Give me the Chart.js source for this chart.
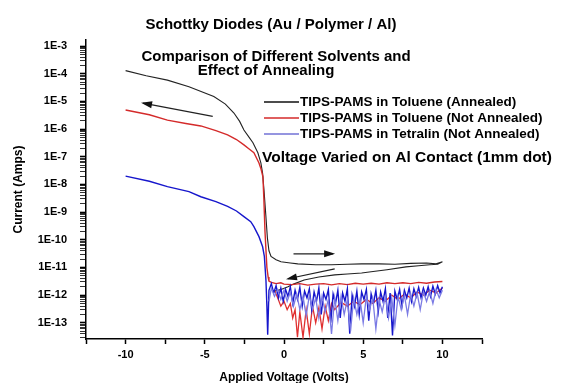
<!DOCTYPE html>
<html>
<head>
<meta charset="utf-8">
<script src="https://cdn.jsdelivr.net/npm/chart.js@4.4.1/dist/chart.umd.min.js"></script>
<style>
  html, body { margin: 0; padding: 0; background: #fff; }
</style>
</head>
<body>
<canvas id="Schottky" width="561" height="383"></canvas>
<script>
// Sweeps: [voltage (V), current (A)]
// Annealed in toluene: reverse branch, forward sweep (upper) and return sweep (lower)
const BLACK_SWEEP = [
  [-10, 1.3e-4], [-8.7, 8.5e-5], [-7.36, 5.9e-5], [-6, 3.4e-5], [-4.43, 1.5e-5],
  [-3.7, 8e-6], [-3.16, 3.8e-6], [-2.8, 1.9e-6], [-2.53, 9.3e-7], [-2.2, 5e-7],
  [-1.96, 3.2e-7], [-1.65, 1.4e-7], [-1.46, 6e-8], [-1.35, 2.5e-8], [-1.25, 5e-9],
  [-1.15, 8e-10], [-1.05, 1.2e-10], [-0.95, 4e-11], [-0.82, 2.5e-11], [-0.5, 1.9e-11],
  [-0.19, 1.6e-11], [0.4, 1.45e-11], [0.87, 1.35e-11], [2, 1.25e-11], [3, 1.25e-11],
  [4, 1.3e-11], [4.9, 1.35e-11], [6, 1.35e-11], [7, 1.3e-11], [8, 1.4e-11],
  [9, 1.45e-11], [9.6, 1.35e-11], [10, 1.6e-11],
  [9.7, 1.3e-11], [9.2, 1.25e-11], [8.5, 1.15e-11], [7.7, 1.05e-11], [6.5, 8.3e-12],
  [5.5, 7e-12], [4.9, 6.3e-12], [4, 5.8e-12], [3.2, 5.4e-12], [2.2, 4.5e-12],
  [1.27, 3.5e-12], [0.6, 2.5e-12], [0.25, 2e-12], [-0.19, 1.6e-12], [-0.6, 1.4e-12],
];

// Not annealed in toluene
const RED_SWEEP = [
  [-10, 4.9e-6], [-8.5, 3.3e-6], [-7.36, 2.1e-6], [-6.2, 1.6e-6], [-5.25, 1.3e-6],
  [-4.3, 8.8e-7], [-3.56, 6.2e-7], [-3, 4.2e-7], [-2.53, 2.7e-7], [-2.2, 1.9e-7],
  [-1.9, 1.4e-7], [-1.58, 6e-8], [-1.45, 3.6e-8], [-1.33, 1.9e-8], [-1.27, 2.8e-9],
  [-1.2, 2e-10], [-1.14, 4.4e-11], [-1.08, 1e-11], [-1.0, 4.5e-12], [-0.95, 3.2e-12],
  [-0.8, 2.9e-12], [-0.5, 2.6e-12], [-0.2, 2.8e-12], [0, 2.5e-12], [0.5, 2.4e-12],
  [1, 2.6e-12], [1.5, 2.3e-12], [2, 2.5e-12], [2.5, 2.6e-12], [3, 2.35e-12],
  [3.5, 2.6e-12], [4, 2.4e-12], [4.5, 2.7e-12], [5, 2.5e-12], [5.5, 2.7e-12],
  [6, 2.5e-12], [6.5, 2.8e-12], [7, 2.6e-12], [7.5, 2.8e-12], [8, 2.6e-12],
  [8.5, 2.9e-12], [9, 2.7e-12], [9.5, 3e-12], [10, 3.1e-12],
];
const RED_RETURN = [
  [10, 1.8e-12], [9.6, 1.2e-12], [9.2, 1.5e-12], [8.8, 1e-12], [8.4, 1.3e-12],
  [8.0, 8e-13], [7.6, 1.1e-12], [7.2, 7e-13], [6.8, 1e-12], [6.4, 6e-13],
  [6.0, 8e-13], [5.6, 5e-13], [5.2, 7e-13], [4.8, 4.5e-13], [4.4, 6e-13],
  [4.0, 4e-13], [3.6, 5.5e-13], [3.2, 3e-13], [3.0, 5e-13], [2.8, 1.2e-13],
  [2.6, 4e-13], [2.4, 6e-14], [2.2, 3.5e-13], [2.0, 1e-13], [1.8, 4e-13],
  [1.6, 4e-14], [1.4, 3e-13], [1.2, 3e-14], [1.0, 2.5e-13], [0.85, 3e-14],
  [0.7, 3e-13], [0.55, 1.5e-13], [0.4, 5e-13], [0.2, 3e-13], [0, 6e-13],
  [-0.2, 4e-13], [-0.4, 8e-13], [-0.6, 1.5e-12],
];

// Not annealed in tetralin
const BLUE_SWEEP = [
  [-10, 2.0e-8], [-8.5, 1.3e-8], [-7.36, 8.3e-9], [-6, 5.5e-9], [-5.25, 3.6e-9],
  [-4.3, 2.4e-9], [-3.56, 1.6e-9], [-3, 1.1e-9], [-2.53, 6.9e-10], [-2.1, 4.5e-10],
  [-1.9, 3.0e-10], [-1.58, 1.3e-10], [-1.35, 5.6e-11], [-1.24, 2.5e-11], [-1.14, 3.5e-12],
  [-1.08, 4e-13], [-1.03, 3.7e-14], [-0.95, 1.5e-12], [-0.8, 2.6e-12], [-0.65, 1.2e-12],
  [-0.5, 2.2e-12], [-0.35, 8e-13], [-0.2, 1.8e-12], [-0.05, 6e-13], [0.1, 1.6e-12],
  [0.25, 9e-13], [0.4, 2e-12], [0.55, 5e-13], [0.7, 1.5e-12], [0.85, 7e-13],
  [1.0, 1.9e-12], [1.15, 4e-13], [1.3, 1.4e-12], [1.45, 8e-13], [1.6, 1.7e-12],
  [1.75, 3e-13], [1.9, 1.3e-12], [2.05, 6e-13], [2.2, 1.8e-12], [2.35, 2e-13],
  [2.5, 1.2e-12], [2.65, 7e-13], [2.8, 1.6e-12], [2.95, 1e-13], [3.1, 1.1e-12],
  [3.25, 5e-13], [3.4, 1.5e-12], [3.55, 1.5e-13], [3.7, 1.2e-12], [3.85, 6e-13],
  [4.0, 1.7e-12], [4.15, 4e-14], [4.3, 1e-12], [4.45, 4e-13], [4.6, 1.4e-12],
  [4.75, 2e-13], [4.9, 1.3e-12], [5.05, 7e-13], [5.2, 1.6e-12], [5.35, 1.2e-13],
  [5.5, 1.1e-12], [5.65, 5e-13], [5.8, 1.5e-12], [5.95, 2.5e-13], [6.1, 1.3e-12],
  [6.25, 6e-13], [6.4, 1.7e-12], [6.55, 1.5e-13], [6.7, 1.2e-12], [6.85, 3.5e-14],
  [7.0, 1.4e-12], [7.15, 7e-13], [7.3, 1.6e-12], [7.45, 4e-13], [7.6, 1.5e-12],
  [7.75, 8e-13], [7.9, 1.8e-12], [8.05, 6e-13], [8.2, 1.7e-12], [8.35, 9e-13],
  [8.5, 1.9e-12], [8.65, 8e-13], [8.8, 1.8e-12], [8.95, 1e-12], [9.1, 2e-12],
  [9.25, 9e-13], [9.4, 2.1e-12], [9.55, 1.1e-12], [9.7, 2.2e-12], [9.85, 1.2e-12],
  [10, 2e-12],
];
const BLUE_RETURN = [
  [10, 1.5e-12], [9.8, 8e-13], [9.6, 1.6e-12], [9.4, 5e-13], [9.2, 1.4e-12],
  [9.0, 6e-13], [8.8, 1.3e-12], [8.6, 3e-13], [8.4, 1.2e-12], [8.2, 4e-13],
  [8.0, 1.1e-12], [7.8, 2e-13], [7.6, 1e-12], [7.4, 3e-13], [7.2, 9e-13],
  [7.0, 8e-14], [6.8, 8e-13], [6.6, 1.5e-13], [6.4, 9e-13], [6.2, 2.5e-13],
  [6.0, 7e-13], [5.8, 6e-14], [5.6, 8e-13], [5.4, 3e-13], [5.2, 9e-13],
  [5.0, 1e-13], [4.8, 7e-13], [4.6, 2e-13], [4.4, 8e-13], [4.2, 5e-14],
  [4.0, 7e-13], [3.8, 2e-13], [3.6, 9e-13], [3.4, 1.2e-13], [3.2, 8e-13],
  [3.0, 4e-14], [2.8, 7e-13], [2.6, 2.5e-13], [2.4, 9e-13], [2.2, 1.5e-13],
  [2.0, 8e-13], [1.8, 3e-13], [1.6, 1e-12], [1.4, 1.8e-13], [1.2, 9e-13],
  [1.0, 3e-13], [0.8, 1.1e-12], [0.6, 4e-13], [0.4, 1.3e-12], [0.2, 6e-13],
  [0.0, 1.5e-12], [-0.2, 7e-13], [-0.4, 1.6e-12], [-0.6, 9e-13], [-0.8, 1.8e-12],
  [-0.95, 6e-13],
];

// Sweep direction arrows: [from V, from I, to V, to I]
const ARROWS = [
  [-4.5, 2.9e-6, -8.9, 8.7e-6],
  [0.6, 3.1e-11, 3.1, 3.1e-11],
  [3.2, 8.9e-12, 0.25, 3.9e-12],
];

const LEGEND_LABELS = [
  "TIPS-PAMS in Toluene (Annealed)",
  "TIPS-PAMS in Toluene (Not Annealed)",
  "TIPS-PAMS in Tetralin (Not Annealed)",
];
const LEGEND_COLORS = ["#111111", "#d42a2a", "#7272d6"];

const TITLE = "Schottky Diodes (Au / Polymer / Al)";
const SUBTITLE = ["Comparison of Different Solvents and", "Effect of Annealing"];
const NOTE = "Voltage Varied on Al Contact (1mm dot)";

// axis ticks
const X_STEP = 2.5;
const DECADES = [-14, -13, -12, -11, -10, -9, -8, -7, -6, -5, -4, -3];
const MANTISSAS = [1, 2, 3, 4, 5, 6, 7, 8, 9];

const Y_MIN = 2.6e-14;
const Y_MAX = 1.66e-3;

const FONT = "'Liberation Sans', Arial, sans-serif";

function toPoints(rows) {
  return rows.map((r) => ({ x: r[0], y: r[1] }));
}

function isDecade(v) {
  const e = Math.log10(v);
  return Math.abs(e - Math.round(e)) < 1e-6;
}

const annotations = {
  id: "annotations",
  afterDraw(chart) {
    const ctx = chart.ctx;
    const xs = chart.scales.x;
    const ys = chart.scales.y;
    ctx.save();
    ctx.fillStyle = "#000";
    ctx.textBaseline = "middle";

    ctx.textAlign = "center";
    ctx.font = "bold 15px " + FONT;
    ctx.fillText(TITLE, 271, 25);
    ctx.fillText(SUBTITLE[0], 276, 57);
    ctx.fillText(SUBTITLE[1], 266, 71);

    // legend
    ctx.textAlign = "left";
    ctx.font = "bold 13.5px " + FONT;
    LEGEND_LABELS.forEach((label, i) => {
      const y = 102 + i * 16;
      ctx.strokeStyle = LEGEND_COLORS[i];
      ctx.lineWidth = 1.3;
      ctx.beginPath();
      ctx.moveTo(264, y);
      ctx.lineTo(299, y);
      ctx.stroke();
      ctx.fillStyle = "#000";
      ctx.fillText(label, 300, y);
    });

    ctx.font = "bold 15.5px " + FONT;
    ctx.fillText(NOTE, 262, 158);

    // arrows
    ctx.strokeStyle = "#222";
    ctx.fillStyle = "#111";
    ctx.lineWidth = 1.2;
    ARROWS.forEach((a) => {
      const x0 = xs.getPixelForValue(a[0]);
      const y0 = ys.getPixelForValue(a[1]);
      const x1 = xs.getPixelForValue(a[2]);
      const y1 = ys.getPixelForValue(a[3]);
      const ang = Math.atan2(y1 - y0, x1 - x0);
      ctx.beginPath();
      ctx.moveTo(x0, y0);
      ctx.lineTo(x1, y1);
      ctx.stroke();
      ctx.beginPath();
      ctx.moveTo(x1 + 2 * Math.cos(ang), y1 + 2 * Math.sin(ang));
      ctx.lineTo(x1 - 9 * Math.cos(ang) + 3.5 * Math.sin(ang), y1 - 9 * Math.sin(ang) - 3.5 * Math.cos(ang));
      ctx.lineTo(x1 - 9 * Math.cos(ang) - 3.5 * Math.sin(ang), y1 - 9 * Math.sin(ang) + 3.5 * Math.cos(ang));
      ctx.closePath();
      ctx.fill();
    });
    ctx.restore();
  },
};

const CHART_SCHOTTKY = document.getElementById("Schottky");

let chart_schottky = new Chart(CHART_SCHOTTKY, {
  type: "scatter",
  data: {
    datasets: [
      {
        label: "Tetralin return",
        data: toPoints(BLUE_RETURN),
        borderColor: "#7b7be4",
        borderWidth: 1.3,
      },
      {
        label: LEGEND_LABELS[2],
        data: toPoints(BLUE_SWEEP),
        borderColor: "#1616cc",
        borderWidth: 1.4,
      },
      {
        label: "Toluene return",
        data: toPoints(RED_RETURN),
        borderColor: "#e03030",
        borderWidth: 1.3,
      },
      {
        label: LEGEND_LABELS[1],
        data: toPoints(RED_SWEEP),
        borderColor: "#d42a2a",
        borderWidth: 1.4,
      },
      {
        label: LEGEND_LABELS[0],
        data: toPoints(BLACK_SWEEP),
        borderColor: "#222222",
        borderWidth: 1.1,
      },
    ],
  },
  options: {
    responsive: false,
    animation: false,
    showLine: true,
    elements: {
      point: { radius: 0 },
      line: { tension: 0 },
    },
    layout: {
      padding: { left: 4, right: 79, top: 40, bottom: 0 },
    },
    plugins: {
      legend: { display: false },
      tooltip: { enabled: false },
      title: { display: false },
    },
    scales: {
      x: {
        type: "linear",
        min: -12.5,
        max: 12.5,
        afterFit: (scale) => {
          scale.height = 44;
        },
        border: { display: true, color: "#000", width: 1.5 },
        grid: {
          drawOnChartArea: false,
          tickLength: 5,
          tickColor: "#000",
          tickWidth: 1.5,
        },
        ticks: {
          stepSize: X_STEP,
          autoSkip: false,
          maxRotation: 0,
          padding: 4,
          color: "#000",
          font: { family: FONT, size: 11, weight: "bold" },
          callback: (v) => (v % 5 === 0 ? String(v) : ""),
        },
        title: {
          display: true,
          text: "Applied Voltage (Volts)",
          color: "#000",
          font: { family: FONT, size: 12, weight: "bold", lineHeight: 0.9 },
          padding: { top: 0, bottom: 0 },
        },
      },
      y: {
        type: "logarithmic",
        min: Y_MIN,
        max: Y_MAX,
        afterFit: (scale) => {
          scale.width = 82;
        },
        afterBuildTicks: (scale) => {
          const ticks = [];
          DECADES.forEach((e) => {
            MANTISSAS.forEach((m) => {
              const v = m * Math.pow(10, e);
              if (v >= Y_MIN && v <= Y_MAX) ticks.push({ value: v });
            });
          });
          scale.ticks = ticks;
        },
        border: { display: true, color: "#000", width: 1.5 },
        grid: {
          drawOnChartArea: false,
          tickLength: 6,
          tickColor: "#000",
          tickWidth: (c) => (c.tick && isDecade(c.tick.value) ? 1.6 : 0.8),
        },
        ticks: {
          autoSkip: false,
          padding: 13,
          color: "#000",
          font: { family: FONT, size: 11, weight: "bold" },
          callback: (v) => (isDecade(v) ? "1E" + Math.round(Math.log10(v)) : ""),
        },
        title: {
          display: true,
          text: "Current (Amps)",
          color: "#000",
          font: { family: FONT, size: 12, weight: "bold" },
          padding: { top: 7, bottom: 0 },
        },
      },
    },
  },
  plugins: [annotations],
});
</script>
</body>
</html>
